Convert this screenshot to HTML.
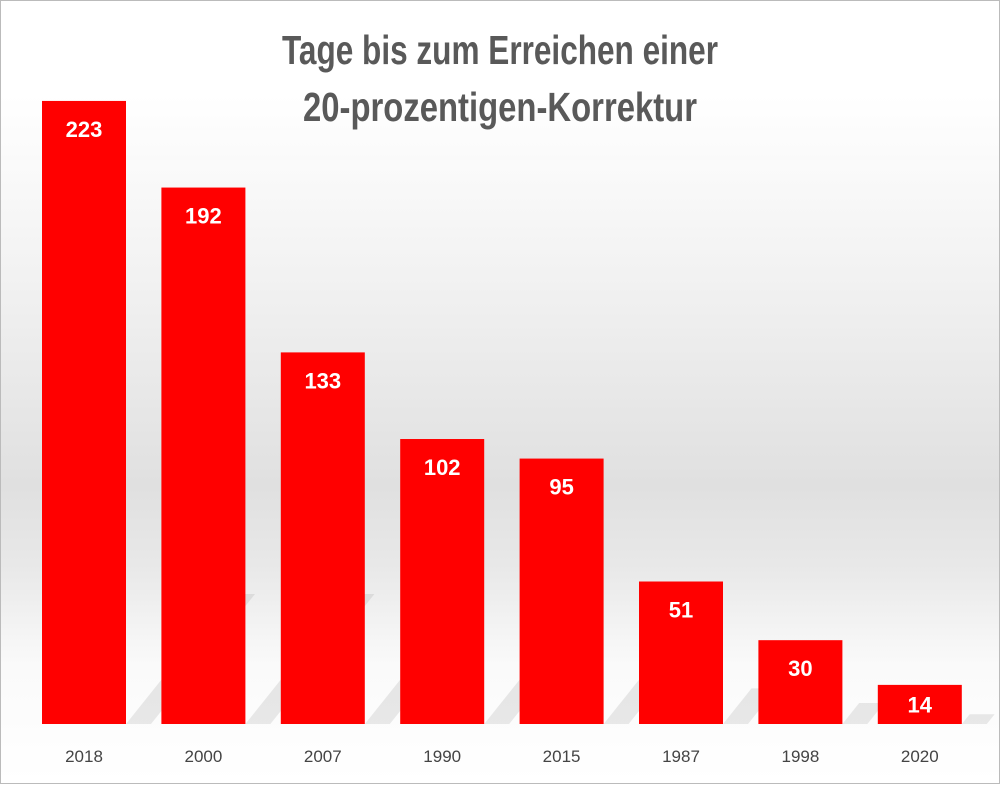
<!DOCTYPE html>
<html><head><meta charset="utf-8">
<style>
html,body{margin:0;padding:0;}
body{width:1000px;height:784px;overflow:hidden;font-family:"Liberation Sans",sans-serif;}
#wrap{position:relative;width:998px;height:782px;border:1px solid #bbb;
background:linear-gradient(180deg,#fff 0%,#fff 12%,#f2f2f2 35%,#e0e0e0 62%,#e8e8e8 72%,#fafafa 85%,#fff 100%);}
</style></head>
<body>
<div id="wrap">
<svg id="chart" width="998" height="782" xmlns="http://www.w3.org/2000/svg">
<text x="499" y="63" text-anchor="middle" textLength="436" lengthAdjust="spacingAndGlyphs" font-family="'Liberation Sans',sans-serif" font-weight="bold" font-size="41" fill="#595959">Tage bis zum Erreichen einer</text>
<text x="499" y="120" text-anchor="middle" textLength="394" lengthAdjust="spacingAndGlyphs" font-family="'Liberation Sans',sans-serif" font-weight="bold" font-size="41" fill="#595959">20-prozentigen-Korrektur</text>
<g id="bars"></g>
</svg>
</div>
<script>
const categories=["2018","2000","2007","1990","2015","1987","1998","2020"];
const values=[223,192,133,102,95,51,30,14];
const ns="http://www.w3.org/2000/svg";
const baseY=723, pxPerUnit=2.794, slot=119.4, x0=41, barW=84;
function yScale(v){return baseY-v*pxPerUnit;}
function xScale(i){return x0+i*slot;}
const g=document.getElementById('bars');
categories.forEach((c,i)=>{
  const x=xScale(i), y=yScale(values[i]);
  const sh=document.createElementNS(ns,'polygon');
  
  
  const h=baseY-y, s=Math.min(h*0.25,130);
  sh.setAttribute('points',`${x+barW},${baseY} ${x+barW+s*0.8},${baseY-s} ${x+barW+s*0.8+25},${baseY-s} ${x+barW+25},${baseY}`);
  sh.setAttribute('fill','rgba(150,150,150,0.2)');
  g.appendChild(sh);
  const r=document.createElementNS(ns,'rect');
  
  
  r.setAttribute('x',x);r.setAttribute('y',y);r.setAttribute('width',barW);r.setAttribute('height',baseY-y);
  r.setAttribute('fill','#ff0000');
  g.appendChild(r);
  const t=document.createElementNS(ns,'text');
  
  
  t.setAttribute('x',x+barW/2);t.setAttribute('y',y+Math.min(36,h/2+8));
  t.setAttribute('text-anchor','middle');t.setAttribute('fill','#fff');
  t.setAttribute('font-weight','bold');t.setAttribute('font-size','22');
  t.textContent=values[i];
  g.appendChild(t);
  const l=document.createElementNS(ns,'text');
  
  
  l.setAttribute('x',x+barW/2);l.setAttribute('y',761);
  l.setAttribute('text-anchor','middle');l.setAttribute('fill','#444');
  l.setAttribute('font-size','17');
  l.textContent=c;
  g.appendChild(l);
});
</script>
</body></html>
